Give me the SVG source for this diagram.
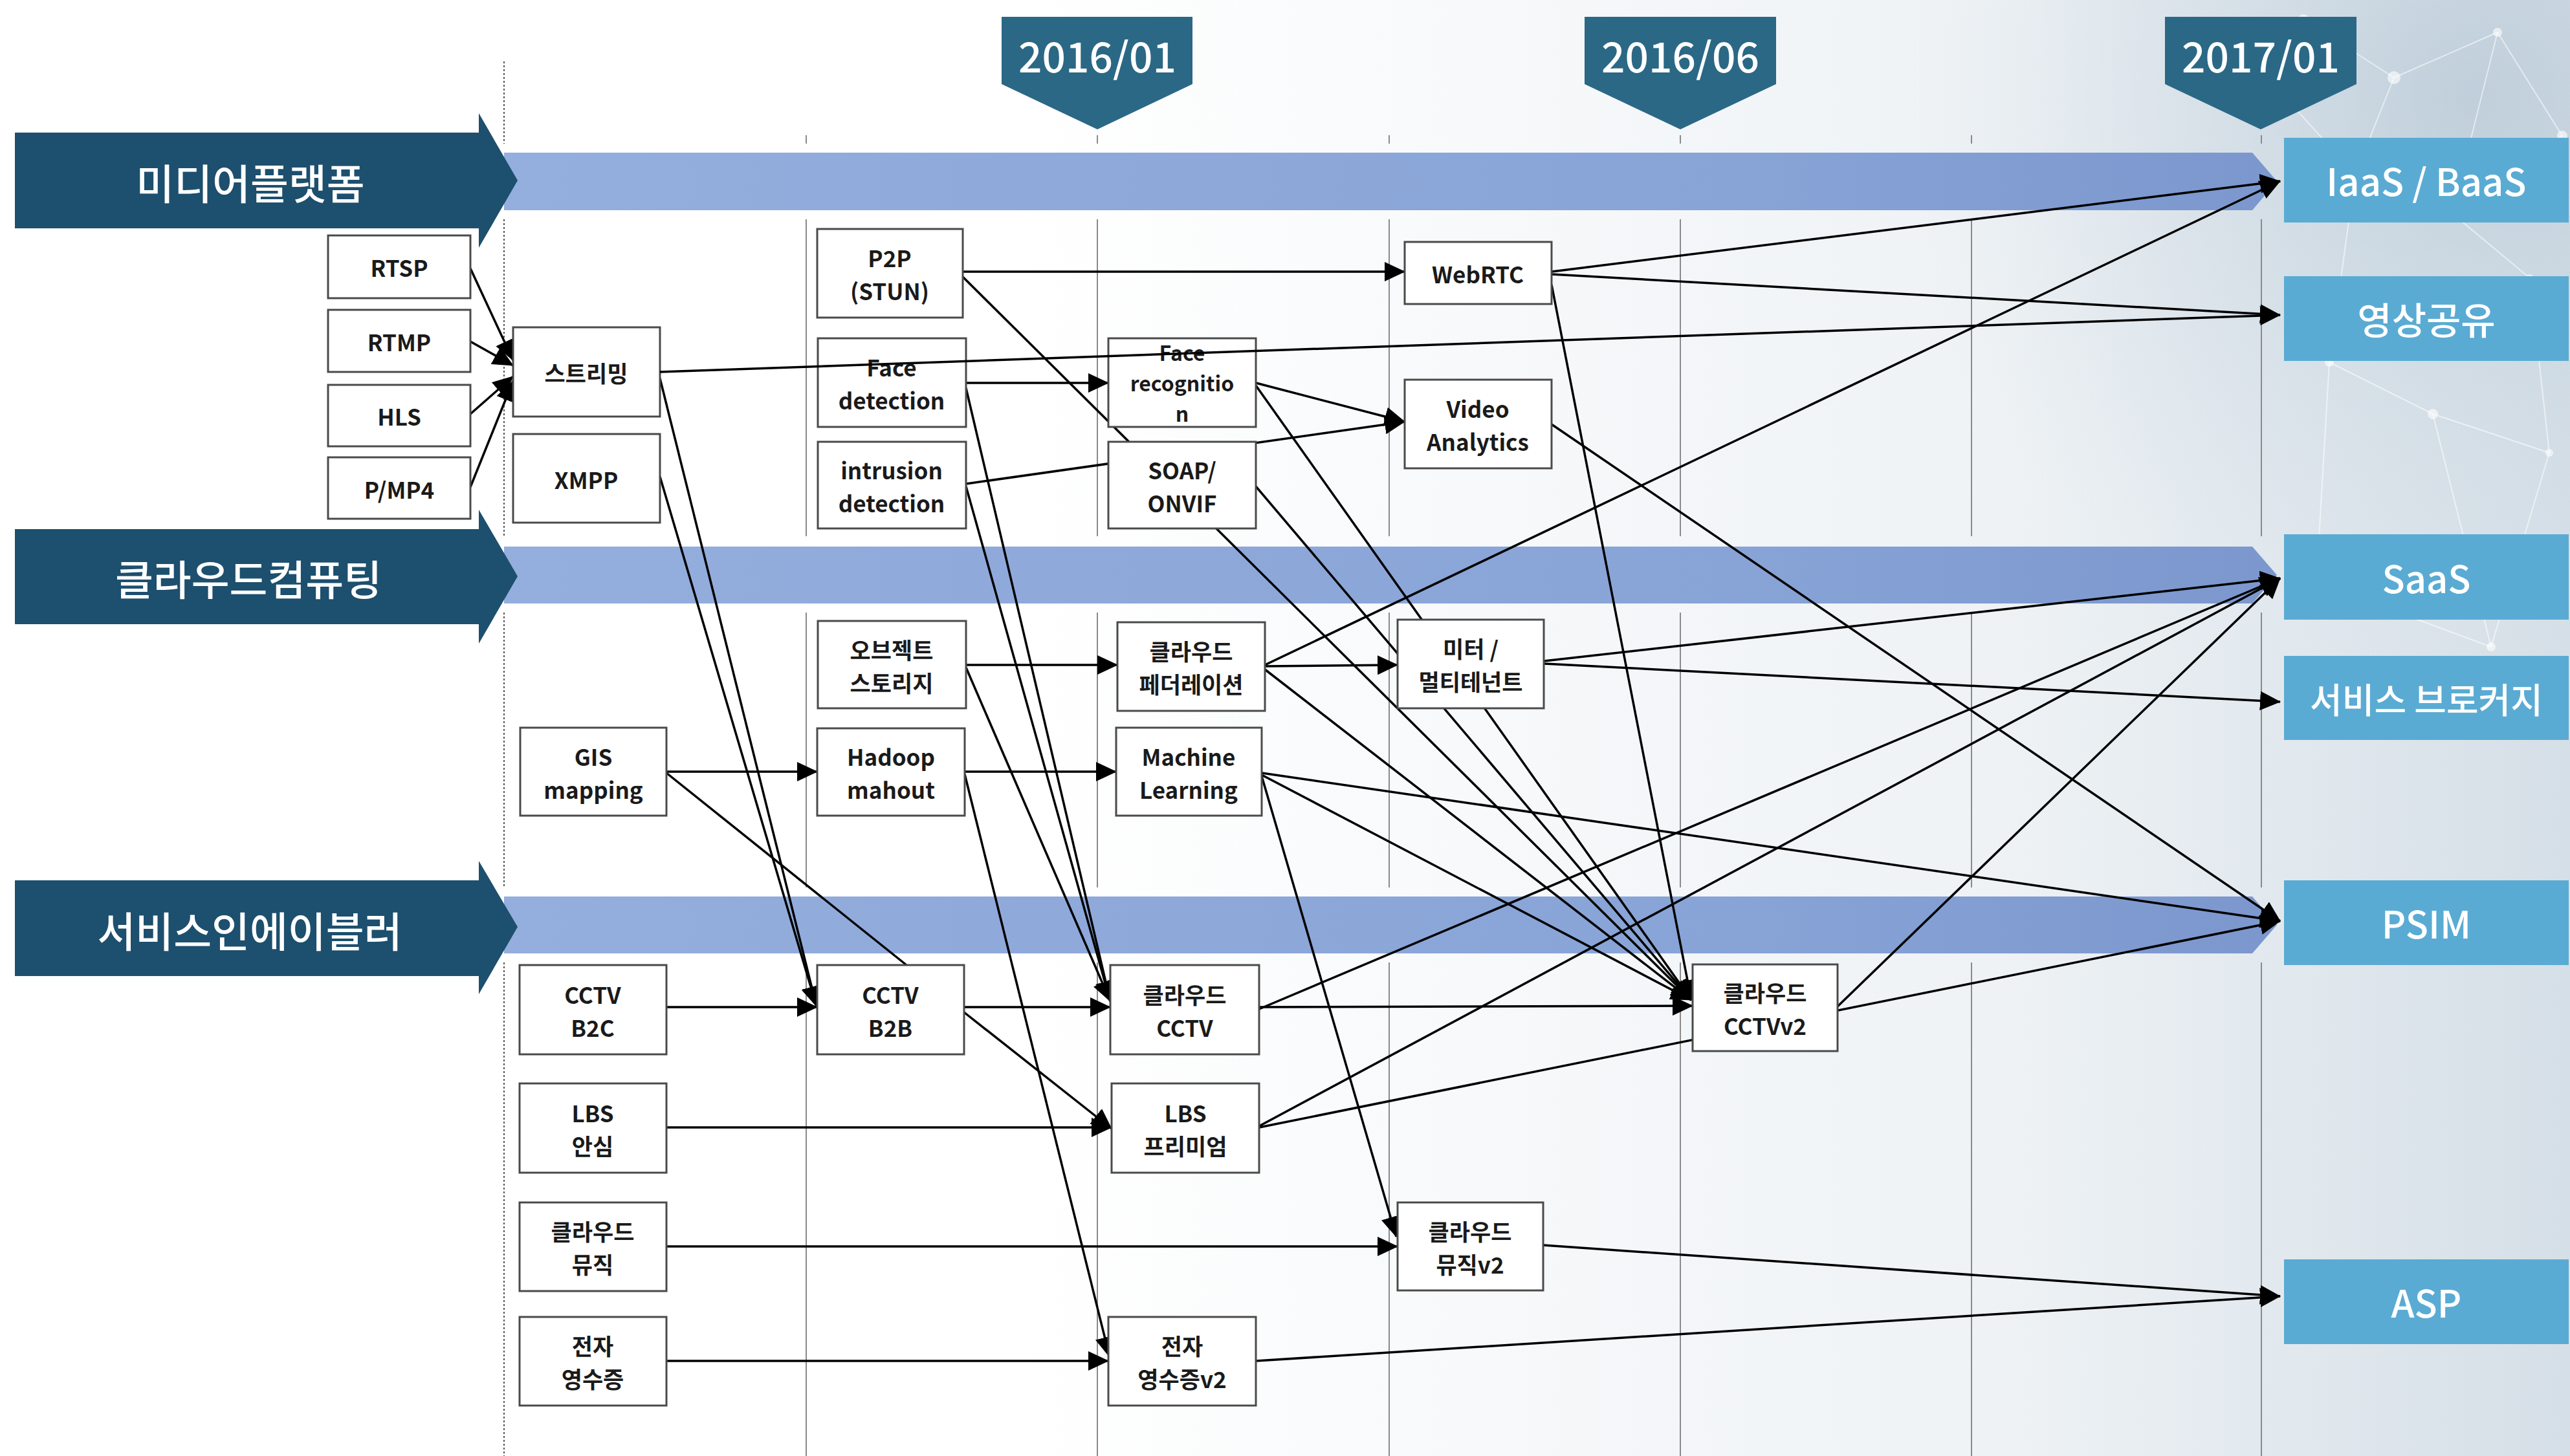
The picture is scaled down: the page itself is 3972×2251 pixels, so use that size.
<svg xmlns="http://www.w3.org/2000/svg" width="3972" height="2251" viewBox="0 0 3972 2251">
<defs>
<linearGradient id="bg" x1="0" y1="0" x2="1" y2="0">
<stop offset="0" stop-color="#ffffff"/><stop offset="0.4" stop-color="#ffffff"/><stop offset="0.78" stop-color="#eef2f5"/><stop offset="1" stop-color="#d5dfe7"/>
</linearGradient>
<radialGradient id="glow" cx="3820" cy="150" r="900" gradientUnits="userSpaceOnUse">
<stop offset="0" stop-color="#b9cad7" stop-opacity="0.8"/><stop offset="1" stop-color="#d5dfe7" stop-opacity="0"/>
</radialGradient>
<linearGradient id="bar" x1="0" y1="0" x2="1" y2="0">
<stop offset="0" stop-color="#94aedd"/><stop offset="0.7" stop-color="#88a3d6"/><stop offset="1" stop-color="#7b97cd"/>
</linearGradient>
<marker id="ah" viewBox="0 0 32 30" refX="31" refY="15" markerWidth="32" markerHeight="30" markerUnits="userSpaceOnUse" orient="auto">
<path d="M0,0 L32,15 L0,30 z" fill="#000"/>
</marker>
<style>
.grid{stroke:#8a8a8a;stroke-width:2;fill:none}
.dot{stroke:#555;stroke-width:2;stroke-dasharray:3 3;fill:none}
.band{fill:url(#bar)}
.big{fill:#1d4f6e}
.pent{fill:#2b6886}
.res{fill:#5aabd3}
.node rect{fill:#fff;stroke:#4a4a4a;stroke-width:3}
.nt{font-family:"Noto Sans CJK KR","Liberation Sans",sans-serif;font-size:35px;font-weight:700;fill:#1a1a1a;text-anchor:middle;dominant-baseline:central}
.nt3{font-size:32px}
.wt{font-family:"Noto Sans CJK KR","Liberation Sans",sans-serif;fill:#fff;text-anchor:middle;dominant-baseline:central;font-weight:500}
.ct line{stroke:#000;stroke-width:3.5;fill:none}
.ar{marker-end:url(#ah)}
.net line{stroke:#ffffff;stroke-opacity:0.55;stroke-width:2}
.net circle{fill:#ffffff;fill-opacity:0.6}
</style>
</defs>

<rect x="0" y="0" width="3972" height="2251" fill="url(#bg)"/>
<rect x="2900" y="0" width="1072" height="1100" fill="url(#glow)"/>
<g class="net">
<line x1="3560" y1="30" x2="3700" y2="120"/><line x1="3700" y1="120" x2="3860" y2="50"/><line x1="3860" y1="50" x2="3960" y2="210"/>
<line x1="3700" y1="120" x2="3640" y2="270"/><line x1="3640" y1="270" x2="3790" y2="330"/><line x1="3790" y1="330" x2="3960" y2="210"/>
<line x1="3790" y1="330" x2="3910" y2="430"/><line x1="3640" y1="270" x2="3600" y2="560"/><line x1="3600" y1="560" x2="3760" y2="640"/>
<line x1="3760" y1="640" x2="3940" y2="700"/><line x1="3910" y1="430" x2="3940" y2="700"/><line x1="3860" y1="50" x2="3790" y2="330"/>
<line x1="3450" y1="60" x2="3560" y2="30"/><line x1="3450" y1="60" x2="3640" y2="270"/><line x1="3760" y1="640" x2="3850" y2="1000"/>
<line x1="3600" y1="560" x2="3580" y2="900"/><line x1="3580" y1="900" x2="3850" y2="1000"/><line x1="3940" y1="700" x2="3850" y2="1000"/>
<circle cx="3560" cy="30" r="8"/><circle cx="3700" cy="120" r="10"/><circle cx="3860" cy="50" r="7"/><circle cx="3960" cy="210" r="8"/>
<circle cx="3640" cy="270" r="9"/><circle cx="3790" cy="330" r="7"/><circle cx="3910" cy="430" r="6"/><circle cx="3600" cy="560" r="7"/>
<circle cx="3760" cy="640" r="8"/><circle cx="3940" cy="700" r="6"/><circle cx="3450" cy="60" r="6"/><circle cx="3580" cy="900" r="6"/><circle cx="3850" cy="1000" r="7"/>
</g>

<g id="grid">
<path class="dot" d="M779,95 V222 M779,339 V829 M779,947 V1372 M779,1488 V2251"/>
<path class="grid" d="M1246,209 V222 M1246,339 V829 M1246,947 V1372 M1246,1488 V2251
M1696,209 V222 M1696,339 V829 M1696,947 V1372 M1696,1488 V2251
M2147,209 V222 M2147,339 V829 M2147,947 V1372 M2147,1488 V2251
M2597,209 V222 M2597,339 V829 M2597,947 V1372 M2597,1488 V2251
M3047,209 V222 M3047,339 V829 M3047,947 V1372 M3047,1488 V2251
M3495,209 V222 M3495,339 V829 M3495,947 V1372 M3495,1488 V2251"/>
</g>

<g id="bands">
<path class="band" d="M779,236 H3481 L3519,280 L3481,325 H779 Z"/>
<path class="band" d="M779,845 H3481 L3519,889 L3481,933 H779 Z"/>
<path class="band" d="M779,1386 H3481 L3519,1430 L3481,1474 H779 Z"/>
</g>

<g id="lane-media">
<path class="big" d="M23,205 H740 V175 L800,279 L740,383 V353 H23 Z"/>
<text class="wt" x="387" y="280" font-size="64">미디어플랫폼</text>
</g>
<g id="lane-cloud">
<path class="big" d="M23,818 H740 V788 L800,891 L740,995 V965 H23 Z"/>
<text class="wt" x="384" y="892" font-size="64">클라우드컴퓨팅</text>
</g>
<g id="lane-enabler">
<path class="big" d="M23,1361 H740 V1331 L800,1433 L740,1537 V1509 H23 Z"/>
<text class="wt" x="386" y="1436" font-size="64">서비스인에이블러</text>
</g>

<g id="ms-201601"><path class="pent" d="M1548,26 H1843 V130 L1696,200 L1548,130 Z"/><text class="wt" x="1696" y="84" font-size="64">2016/01</text></g>
<g id="ms-201606"><path class="pent" d="M2449,26 H2745 V130 L2597,200 L2449,130 Z"/><text class="wt" x="2597" y="84" font-size="64">2016/06</text></g>
<g id="ms-201701"><path class="pent" d="M3346,26 H3642 V130 L3494,200 L3346,130 Z"/><text class="wt" x="3494" y="84" font-size="64">2017/01</text></g>

<g id="connectors" class="ct">
<line class="ar" x1="727" y1="415" x2="793" y2="557"/>
<line class="ar" x1="727" y1="528" x2="793" y2="565"/>
<line class="ar" x1="727" y1="640" x2="793" y2="582"/>
<line class="ar" x1="727" y1="753" x2="793" y2="589"/>
<line class="ar" x1="1020" y1="585" x2="1262" y2="1556"/>
<line class="ar" x1="1020" y1="737" x2="1262" y2="1556"/>
<line class="ar" x1="1488" y1="420" x2="2171" y2="420"/>
<line class="ar" x1="1488" y1="428" x2="2614" y2="1546"/>
<line class="ar" x1="1493" y1="592" x2="1713" y2="592"/>
<line class="ar" x1="1493" y1="600" x2="1716" y2="1548"/>
<line class="ar" x1="1493" y1="752" x2="1716" y2="1548"/>
<line class="ar" x1="1493" y1="748" x2="2171" y2="652"/>
<line class="ar" x1="1941" y1="592" x2="2171" y2="652"/>
<line class="ar" x1="1941" y1="596" x2="2614" y2="1546"/>
<line class="ar" x1="1941" y1="752" x2="2614" y2="1546"/>
<line class="ar" x1="2398" y1="420" x2="3524" y2="280"/>
<line class="ar" x1="2398" y1="424" x2="3524" y2="487"/>
<line class="ar" x1="2398" y1="440" x2="2614" y2="1546"/>
<line class="ar" x1="2398" y1="656" x2="3524" y2="1424"/>
<line class="ar" x1="1493" y1="1028" x2="1727" y2="1028"/>
<line class="ar" x1="1493" y1="1032" x2="1716" y2="1548"/>
<line class="ar" x1="1955" y1="1030" x2="2160" y2="1028"/>
<line class="ar" x1="1955" y1="1028" x2="3524" y2="280"/>
<line class="ar" x1="1955" y1="1035" x2="2614" y2="1546"/>
<line class="ar" x1="2386" y1="1022" x2="3524" y2="894"/>
<line class="ar" x1="2386" y1="1026" x2="3524" y2="1085"/>
<line class="ar" x1="1030" y1="1193" x2="1263" y2="1193"/>
<line x1="1030" y1="1195" x2="1401" y2="1492"/>
<line class="ar" x1="1491" y1="1193" x2="1725" y2="1193"/>
<line class="ar" x1="1491" y1="1197" x2="1715" y2="2098"/>
<line class="ar" x1="1950" y1="1195" x2="3524" y2="1424"/>
<line class="ar" x1="1950" y1="1198" x2="2614" y2="1546"/>
<line class="ar" x1="1950" y1="1200" x2="2158" y2="1912"/>
<line class="ar" x1="1030" y1="1557" x2="1263" y2="1557"/>
<line class="ar" x1="1490" y1="1557" x2="1716" y2="1557"/>
<line class="ar" x1="1490" y1="1565" x2="1718" y2="1745"/>
<line class="ar" x1="1946" y1="1557" x2="2616" y2="1555"/>
<line class="ar" x1="1946" y1="1560" x2="3524" y2="894"/>
<line class="ar" x1="1030" y1="1743" x2="1718" y2="1743"/>
<line class="ar" x1="1946" y1="1741" x2="3524" y2="894"/>
<line class="ar" x1="1946" y1="1743" x2="3524" y2="1424"/>
<line class="ar" x1="2840" y1="1556" x2="3524" y2="894"/>
<line class="ar" x1="1030" y1="1927" x2="2160" y2="1927"/>
<line class="ar" x1="1030" y1="2104" x2="1713" y2="2104"/>
<line class="ar" x1="2385" y1="1925" x2="3524" y2="2004"/>
<line class="ar" x1="1941" y1="2104" x2="3524" y2="2004"/>
</g>

<g id="n-rtsp" class="node"><rect x="507" y="364" width="220" height="97"/><text class="nt" x="617" y="412">RTSP</text></g>
<g id="n-rtmp" class="node"><rect x="507" y="479" width="220" height="96"/><text class="nt" x="617" y="527">RTMP</text></g>
<g id="n-hls" class="node"><rect x="507" y="595" width="220" height="95"/><text class="nt" x="617" y="642">HLS</text></g>
<g id="n-pmp4" class="node"><rect x="507" y="707" width="220" height="95"/><text class="nt" x="617" y="755">P/MP4</text></g>
<g id="n-streaming" class="node"><rect x="793" y="506" width="227" height="138"/><text class="nt" x="906" y="575">스트리밍</text></g>
<g id="n-xmpp" class="node"><rect x="793" y="671" width="227" height="137"/><text class="nt" x="906" y="740">XMPP</text></g>
<g id="n-p2p" class="node"><rect x="1263" y="354" width="225" height="137"/><text class="nt" x="1375" y="397"><tspan x="1375" y="397">P2P</tspan><tspan x="1375" y="448">(STUN)</tspan></text></g>
<g id="n-facedet" class="node"><rect x="1264" y="523" width="229" height="137"/><text class="nt" x="1378" y="566"><tspan x="1378" y="566">Face</tspan><tspan x="1378" y="617">detection</tspan></text></g>
<g id="n-intrusion" class="node"><rect x="1264" y="683" width="229" height="134"/><text class="nt" x="1378" y="725"><tspan x="1378" y="725">intrusion</tspan><tspan x="1378" y="776">detection</tspan></text></g>
<g id="n-facerec" class="node"><rect x="1713" y="523" width="228" height="137"/><text class="nt nt3" x="1827" y="544"><tspan x="1827" y="544">Face</tspan><tspan x="1827" y="591">recognitio</tspan><tspan x="1827" y="638">n</tspan></text></g>
<g id="n-soap" class="node"><rect x="1713" y="683" width="228" height="134"/><text class="nt" x="1827" y="725"><tspan x="1827" y="725">SOAP/</tspan><tspan x="1827" y="776">ONVIF</tspan></text></g>
<g id="n-webrtc" class="node"><rect x="2171" y="374" width="227" height="96"/><text class="nt" x="2284" y="422">WebRTC</text></g>
<g id="n-va" class="node"><rect x="2171" y="587" width="227" height="137"/><text class="nt" x="2284" y="630"><tspan x="2284" y="630">Video</tspan><tspan x="2284" y="681">Analytics</tspan></text></g>
<g id="n-objstore" class="node"><rect x="1264" y="960" width="229" height="135"/><text class="nt" x="1378" y="1003"><tspan x="1378" y="1003">오브젝트</tspan><tspan x="1378" y="1054">스토리지</tspan></text></g>
<g id="n-federation" class="node"><rect x="1727" y="962" width="228" height="137"/><text class="nt" x="1841" y="1005"><tspan x="1841" y="1005">클라우드</tspan><tspan x="1841" y="1056">페더레이션</tspan></text></g>
<g id="n-meter" class="node"><rect x="2160" y="958" width="226" height="137"/><text class="nt" x="2273" y="1001"><tspan x="2273" y="1001">미터 /</tspan><tspan x="2273" y="1052">멀티테넌트</tspan></text></g>
<g id="n-gis" class="node"><rect x="804" y="1125" width="226" height="136"/><text class="nt" x="917" y="1168"><tspan x="917" y="1168">GIS</tspan><tspan x="917" y="1219">mapping</tspan></text></g>
<g id="n-hadoop" class="node"><rect x="1263" y="1126" width="228" height="135"/><text class="nt" x="1377" y="1168"><tspan x="1377" y="1168">Hadoop</tspan><tspan x="1377" y="1219">mahout</tspan></text></g>
<g id="n-ml" class="node"><rect x="1725" y="1125" width="225" height="136"/><text class="nt" x="1837" y="1168"><tspan x="1837" y="1168">Machine</tspan><tspan x="1837" y="1219">Learning</tspan></text></g>
<g id="n-b2c" class="node"><rect x="803" y="1492" width="227" height="138"/><text class="nt" x="916" y="1536"><tspan x="916" y="1536">CCTV</tspan><tspan x="916" y="1587">B2C</tspan></text></g>
<g id="n-b2b" class="node"><rect x="1263" y="1492" width="227" height="138"/><text class="nt" x="1376" y="1536"><tspan x="1376" y="1536">CCTV</tspan><tspan x="1376" y="1587">B2B</tspan></text></g>
<g id="n-cloudcctv" class="node"><rect x="1716" y="1492" width="230" height="138"/><text class="nt" x="1831" y="1536"><tspan x="1831" y="1536">클라우드</tspan><tspan x="1831" y="1587">CCTV</tspan></text></g>
<g id="n-cctvv2" class="node"><rect x="2616" y="1491" width="224" height="134"/><text class="nt" x="2728" y="1533"><tspan x="2728" y="1533">클라우드</tspan><tspan x="2728" y="1584">CCTVv2</tspan></text></g>
<g id="n-lbs" class="node"><rect x="803" y="1675" width="227" height="138"/><text class="nt" x="916" y="1719"><tspan x="916" y="1719">LBS</tspan><tspan x="916" y="1770">안심</tspan></text></g>
<g id="n-lbspremium" class="node"><rect x="1718" y="1675" width="228" height="138"/><text class="nt" x="1832" y="1719"><tspan x="1832" y="1719">LBS</tspan><tspan x="1832" y="1770">프리미엄</tspan></text></g>
<g id="n-music" class="node"><rect x="803" y="1859" width="227" height="137"/><text class="nt" x="916" y="1902"><tspan x="916" y="1902">클라우드</tspan><tspan x="916" y="1953">뮤직</tspan></text></g>
<g id="n-musicv2" class="node"><rect x="2160" y="1859" width="225" height="136"/><text class="nt" x="2272" y="1902"><tspan x="2272" y="1902">클라우드</tspan><tspan x="2272" y="1953">뮤직v2</tspan></text></g>
<g id="n-receipt" class="node"><rect x="803" y="2036" width="227" height="137"/><text class="nt" x="916" y="2079"><tspan x="916" y="2079">전자</tspan><tspan x="916" y="2130">영수증</tspan></text></g>
<g id="n-receiptv2" class="node"><rect x="1713" y="2036" width="228" height="137"/><text class="nt" x="1827" y="2079"><tspan x="1827" y="2079">전자</tspan><tspan x="1827" y="2130">영수증v2</tspan></text></g>

<g id="connectors-over" class="ct">
<line class="ar" x1="1020" y1="575" x2="3524" y2="487"/>
</g>

<g id="r-iaas"><rect class="res" x="3530" y="213" width="440" height="131"/><text class="wt" x="3750" y="278" font-size="58">IaaS / BaaS</text></g>
<g id="r-share"><rect class="res" x="3530" y="427" width="440" height="131"/><text class="wt" x="3750" y="492" font-size="58">영상공유</text></g>
<g id="r-saas"><rect class="res" x="3530" y="826" width="440" height="132"/><text class="wt" x="3750" y="892" font-size="58">SaaS</text></g>
<g id="r-broker"><rect class="res" x="3530" y="1014" width="440" height="130"/><text class="wt" x="3750" y="1079" font-size="54">서비스 브로커지</text></g>
<g id="r-psim"><rect class="res" x="3530" y="1361" width="440" height="131"/><text class="wt" x="3750" y="1426" font-size="58">PSIM</text></g>
<g id="r-asp"><rect class="res" x="3530" y="1947" width="440" height="131"/><text class="wt" x="3750" y="2012" font-size="58">ASP</text></g>
</svg>
